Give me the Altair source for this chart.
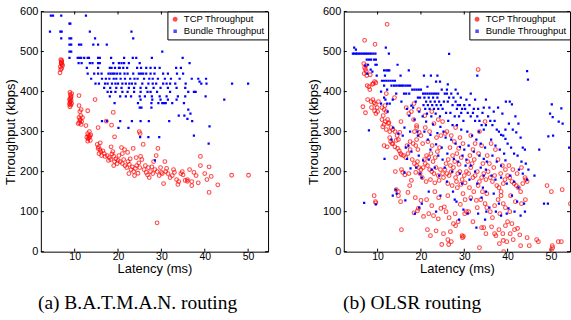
import altair as alt
import pandas as pd

# ---------------- data (latency ms, throughput kbps) ----------------
batman_tcp = [
    (6.8,480),(7.0,478),(6.9,472),(7.1,468),(6.7,462),(7.0,458),(6.8,455),(7.2,465),(6.6,447),(7.0,475),(6.9,470),
    (8.9,398),(9.0,392),(9.1,385),(8.8,380),(9.2,378),(9.0,375),(8.9,372),(9.3,370),(9.1,366),(8.9,362),(9.2,388),(9.0,382),(9.3,395),(8.8,368),
    (11.0,365),(11.5,355),(11.2,350),(11.4,340),(11.0,335),(11.3,330),(11.6,325),(11.1,322),(10.8,320),(11.5,318),(11.2,328),(11.8,335),
    (11.0,390),(12.6,315),(14.7,380),(13.0,352),(18.9,348),(15.4,310),
    (13.0,295),(13.2,290),(13.5,288),(13.3,285),(13.1,282),(13.6,278),(13.0,276),(13.4,300),(12.8,286),(13.7,292),
    (17.3,326),(18.5,316),
    (15.2,268),(15.5,262),(15.8,255),(16.0,250),(15.6,245),(16.2,240),(15.4,258),(16.5,252),(16.8,245),(17.0,238),(15.9,272),
    (17.5,240),(18.0,235),(18.3,230),(18.6,244),(19.0,238),(19.2,225),(19.5,232),(19.8,220),(18.8,250),(17.8,228),(19.0,215),(20.0,228),(18.4,262),(19.2,287),
    (20.5,225),(21.0,220),(21.3,230),(21.6,215),(22.0,210),(22.3,225),(22.6,218),(23.0,205),(23.3,212),(23.6,200),(24.0,208),(24.3,215),(24.6,196),(25.0,210),
    (20.8,260),(21.5,255),(22.2,248),(23.5,258),(24.2,235),(25.2,238),(25.5,230),(20.2,240),(22.8,232),(24.8,222),(23.8,190),(22.5,195),(21.0,245),(25.8,268),(24.9,300),(25.1,295),
    (26.0,205),(26.5,198),(27.0,210),(27.5,200),(28.0,195),(28.5,205),(29.0,200),(29.5,190),(30.0,198),(26.3,215),(27.2,185),(28.2,225),(29.2,258),(28.8,240),(30.5,170),(29.8,210),(27.8,212),(26.8,192),(30.2,195),(29.0,72),
    (31.0,200),(31.5,195),(32.0,185),(32.5,190),(33.0,198),(33.5,180),(34.0,175),(34.5,195),(35.0,192),(31.2,208),(33.8,168),(34.8,200),(32.8,205),(30.8,225),
    (35.5,178),(36.0,180),(36.5,205),(37.0,165),(37.5,198),(38.0,190),(38.5,172),(39.0,238),(39.0,215),(40.0,195),(40.5,180),(41.0,212),(41.0,148),(41.5,188),(43.0,167),(46.2,191),(50.1,191),(37.0,175),(36.0,176),
]
batman_bundle = [
    (4.5,590),(5.0,590),(6.9,590),(12.6,590),(4.3,550),(6.7,550),(7.0,550),(13.5,550),(23.1,550),(6.9,533),(8.8,533),(9.2,533),(14.7,533),(23.5,533),
    (8.8,570),(9.0,570),(8.8,517),(9.2,517),(11.0,517),(11.5,517),(14.3,517),(15.4,517),(17.4,517),(8.8,500),(9.2,500),(30.2,500),
    (8.8,484),(10.7,484),(11.1,484),(11.5,484),(12.2,484),(13.0,484),(13.3,484),(15.4,484),(15.8,484),(18.4,484),(21.4,484),(23.4,484),(24.2,484),(27.8,484),(34.9,484),
    (10.9,471),(11.6,471),(13.5,471),(14.1,471),(15.4,471),(15.8,471),(18.9,471),(20.2,471),(20.8,471),(21.4,471),(22.5,471),(25.0,471),(36.5,471),
    (12.8,459),(15.4,459),(18.1,459),(18.5,459),(19.3,459),(20.2,459),(20.4,459),(21.2,459),(22.1,459),(24.4,459),(25.3,459),(26.5,459),(27.5,459),(28.5,459),(29.6,459),(33.4,459),(34.5,459),
    (13.0,445),(14.5,445),(15.4,445),(16.2,445),(17.8,445),(18.3,445),(18.8,445),(19.2,445),(19.8,445),(20.5,445),(21.5,445),(22.2,445),(23.5,445),(24.8,445),(25.3,445),(25.8,445),(26.5,445),(27.5,445),(28.4,445),(30.4,445),(31.5,445),(33.6,445),(35.0,445),
    (13.8,432),(16.3,432),(17.2,432),(18.0,432),(19.0,432),(19.6,432),(20.6,432),(21.6,432),(22.8,432),(23.8,432),(24.5,432),(26.0,432),(27.2,432),(28.0,432),(29.2,432),(30.8,432),(32.2,432),(34.2,432),(37.0,432),(38.5,432),(40.3,432),(46.3,420),(50.0,420),
    (14.8,420),(15.6,420),(17.0,420),(17.6,420),(18.6,420),(19.4,420),(20.0,420),(21.0,420),(21.8,420),(22.6,420),(23.2,420),(24.0,420),(25.6,420),(27.0,420),(28.0,420),(28.8,420),(30.4,420),(31.2,420),(32.0,420),(33.2,420),(35.6,420),(39.2,420),(40.4,420),(38.8,425),
    (16.8,409),(18.2,409),(19.6,409),(20.8,409),(22.5,409),(23.7,409),(25.2,409),(26.5,409),(28.2,409),(29.8,409),(31.5,409),(33.5,409),(35.5,409),
    (17.6,399),(18.4,399),(19.4,399),(21.0,399),(22.2,399),(23.7,399),(25.2,399),(26.8,399),(27.5,399),(29.0,399),(32.0,399),(36.2,399),(37.5,399),(37.9,399),
    (18.1,388),(20.5,388),(21.8,388),(23.0,388),(25.0,388),(26.2,388),(27.8,388),(29.6,388),(31.2,388),(33.8,388),(35.5,388),(40.2,388),
    (25.2,380),(27.9,380),(29.8,380),(31.5,380),(33.5,380),(44.5,380),
    (19.2,371),(24.6,371),(27.7,371),(29.3,371),(30.2,371),(30.6,371),(31.0,371),(32.5,371),(35.2,371),
    (25.0,360),(25.4,360),(27.7,360),(36.2,355),(36.7,345),(34.0,340),(35.3,340),(36.0,332),
    (16.3,326),(17.4,326),(20.5,326),(23.2,326),(25.2,326),(27.1,326),(31.8,326),(37.1,326),
    (20.1,309),(22.4,309),(41.1,313),(25.1,286),(27.0,286),(29.5,286),(37.5,290),(40.9,270),(28.5,228),
]
olsr_tcp = [
    (7.0,528),(9.4,518),(12.2,568),(6.8,470),(7.0,460),(7.2,455),(7.4,450),(6.9,445),(7.5,440),(7.3,465),(8.3,442),(8.8,418),(9.0,420),(9.3,425),(9.6,422),(8.0,412),(8.2,405),(7.6,415),
    (6.6,362),(7.2,347),(8.5,375),(8.9,380),(9.2,372),(9.5,368),(9.6,345),(9.9,360),(8.6,360),(9.3,352),(10.0,350),(7.7,380),(10.2,375),(9.2,140),(9.6,122),(9.5,125),
    (11.0,360),(11.5,355),(12.0,350),(11.3,340),(11.0,330),(11.8,325),(11.5,318),(12.3,330),(12.6,322),(11.2,312),(12.0,305),(12.8,300),(13.1,310),(13.5,305),(14.0,300),(14.5,290),
    (11.5,265),(12.2,262),(13.0,275),(13.5,270),(14.0,262),(14.3,278),(14.6,258),(15.0,252),(15.3,245),(14.2,235),(15.5,242),(13.3,270),(12.8,285),(14.8,280),(15.1,298),(15.4,325),(12.5,320),(13.9,385),(11.7,365),(12.0,395),
    (15.5,55),(15.3,125),(14.8,140),(14.3,155),(15.5,205),(14.1,200),(15.8,198),(14.8,150),
    (16.0,240),(16.5,235),(17.0,245),(17.5,255),(18.0,230),(16.8,265),(17.5,275),(18.2,270),(18.8,265),(19.0,280),(19.3,255),(17.2,195),(18.5,220),(19.0,215),(19.5,210),(20.0,205),(18.8,198),(19.2,225),(19.8,195),
    (16.6,360),(17.2,345),(17.8,350),(18.3,330),(19.0,315),(18.5,300),(19.6,298),(20.0,290),(19.0,310),(17.4,165),(17.0,148),(18.7,135),(19.4,108),(18.4,97),(19.2,102),(20.0,128),(16.3,192),(17.8,178),(18.4,370),(19.5,355),
    (20.5,210),(21.0,220),(21.5,215),(22.0,205),(22.5,200),(23.0,195),(23.5,210),(24.0,190),(24.5,205),(25.0,195),(20.8,230),(21.3,240),(21.8,235),(22.3,245),(22.8,225),(23.3,235),(23.8,250),(24.3,260),
    (20.3,185),(21.2,175),(22.2,180),(23.2,172),(24.2,178),(25.2,185),(20.4,270),(21.6,275),(22.6,265),(23.6,285),(24.6,290),(25.6,295),(21.0,310),(22.0,300),(23.0,320),(24.0,330),(25.0,325),(20.9,340),(22.5,350),
    (21.3,130),(22.5,115),(21.8,95),(22.9,90),(24.0,82),(24.6,108),(21.5,55),(22.2,40),(23.5,52),(24.8,18),(25.2,45),(20.6,88),(23.2,150),(24.1,135),(25.4,112),
    (25.5,205),(26.0,195),(26.5,190),(27.0,200),(27.5,210),(28.0,185),(28.5,195),(29.0,200),(29.5,180),(30.0,190),(25.8,220),(26.3,230),(26.8,215),(27.3,240),(27.8,225),(28.3,245),(28.8,218),(29.3,235),
    (26.2,170),(27.2,165),(28.2,175),(29.2,168),(30.2,172),(26.7,260),(27.7,275),(28.7,258),(29.7,270),(26.0,300),(27.0,290),(28.0,310),(29.0,285),
    (26.4,18),(26.2,30),(27.0,25),(26.8,50),(27.5,70),(28.0,65),(28.6,75),(29.5,40),(29.6,35),(29.8,38),(25.8,100),(26.5,85),(27.9,95),(29.1,118),(30.1,95),(30.5,100),(30.2,130),(28.4,160),(29.7,145),(26.2,140),
    (30.5,200),(31.0,195),(31.5,210),(32.0,185),(32.5,190),(33.0,200),(33.5,175),(34.0,185),(34.5,195),(35.0,180),(30.8,225),(31.3,240),(31.8,220),(32.3,230),(33.3,245),(34.3,220),(35.3,240),
    (31.2,160),(32.2,150),(33.2,165),(34.2,150),(35.2,145),(31.5,135),(32.8,128),(33.8,130),(34.8,120),(31.0,100),(32.0,75),(33.0,110),(33.5,10),(34.0,60),(34.5,60),(35.0,45),(35.2,110),
    (33.2,455),(31.5,290),(32.5,270),(33.5,300),(34.8,325),(34.0,265),(32.0,255),
    (35.5,200),(36.0,185),(36.5,175),(37.0,190),(37.5,165),(38.0,160),(38.5,150),(39.0,170),(39.5,205),(40.0,190),(35.8,220),(36.8,210),(37.8,230),(38.8,215),(36.2,270),(37.2,255),(38.4,195),(39.4,180),
    (36.0,100),(36.5,85),(37.0,115),(37.8,130),(38.2,95),(39.0,120),(39.5,110),(36.3,62),(37.0,45),(38.0,55),(38.9,45),(39.5,65),(39.0,28),(38.1,20),(39.1,0),(39.8,25),(37.3,40),(40.0,75),(38.5,140),
    (40.5,185),(41.0,175),(41.5,170),(42.0,165),(42.5,160),(43.0,150),(43.5,170),(44.0,185),(44.5,175),(40.3,215),(41.2,205),(42.2,195),(43.2,210),(44.2,180),
    (40.7,140),(41.8,125),(43.2,120),(40.5,100),(41.0,70),(41.6,55),(42.3,58),(42.8,42),(43.0,15),(40.6,45),(41.3,30),(44.1,130),(45.0,15),(44.5,35),
    (47.1,25),(49.1,165),(50.1,150),(50.4,10),(50.1,5),(51.7,25),(52.4,25),(52.6,155),(54.5,120),(46.7,30),(50.3,15),
]
olsr_bundle = [
    (4.3,495),(4.6,495),(5.0,495),(5.3,495),(5.7,495),(6.1,495),(6.5,495),(6.9,495),(7.3,495),(7.7,495),(8.1,495),(8.5,495),(9.0,495),(9.5,495),(4.6,510),(5.0,505),
    (7.5,480),(8.0,480),(8.5,480),(9.2,480),(9.6,480),(7.2,465),(7.8,467),(9.5,467),(9.8,467),(6.9,122),(9.6,118),(8.0,303),(8.4,455),(7.6,445),(8.8,450),(9.8,440),
    (11.9,510),(12.6,495),(11.5,453),(12.0,453),(12.4,453),(12.7,453),(11.0,427),(11.5,427),(12.0,427),(12.5,427),(13.0,427),(13.5,427),(14.0,427),(14.6,467),(11.7,440),
    (10.8,400),(11.5,415),(12.2,405),(13.2,415),(13.8,415),(14.3,415),(14.8,415),(12.2,370),(12.8,370),(13.5,380),(14.3,395),(11.8,380),(10.8,370),(11.6,232),(14.2,155),
    (13.2,280),(13.6,310),(14.8,295),(12.3,350),(14.4,145),(13.5,140),(11.5,385),
    (15.2,415),(15.6,415),(16.0,415),(16.5,415),(17.0,415),(17.5,415),(17.2,453),(18.0,405),(18.5,405),(19.0,405),(19.5,405),(20.0,405),(16.1,395),(16.6,395),(17.3,395),(19.3,385),(19.8,385),(18.8,375),(17.8,365),
    (15.5,375),(16.8,357),(18.2,360),(19.6,350),(17.3,340),(18.5,330),(16.2,310),(15.8,290),(17.5,300),(19.2,300),(17.1,265),(17.8,250),(19.5,240),(16.8,232),(16.2,198),(18.9,210),(17.6,208),(19.8,195),
    (16.4,128),(18.6,95),(19.6,110),(19.3,290),(15.3,440),(16.5,260),
    (20.5,395),(21.0,395),(21.5,395),(22.0,395),(22.5,395),(23.0,395),(23.5,395),(24.0,395),(20.8,385),(21.8,385),(22.8,385),(23.8,385),(21.2,375),(22.2,375),(23.2,375),(24.2,375),
    (20.6,366),(21.6,366),(22.6,366),(23.6,366),(24.6,366),(21.0,357),(22.0,357),(23.0,357),(24.0,357),(25.0,357),(20.4,338),(21.4,345),(22.4,338),(23.4,345),(24.4,338),
    (21.2,325),(22.8,318),(24.5,312),(20.8,300),(22.2,292),(23.8,296),(21.6,280),(23.5,268),(24.8,260),(22.2,255),(20.5,228),(24.0,240),(25.0,230),(23.2,210),
    (21.5,412),(22.3,440),(23.8,440),(23.5,425),(24.8,405),(24.4,425),(20.7,440),(21.8,150),(23.5,100),(24.5,140),(20.2,120),(22.5,205),(24.2,190),(20.2,185),(21.8,230),
    (25.5,395),(26.0,395),(26.5,385),(27.0,395),(27.5,385),(28.0,375),(28.5,366),(29.0,366),(29.5,357),(30.0,366),(25.3,375),(26.2,375),(27.3,366),(28.3,357),(29.3,347),(30.2,357),
    (25.8,347),(26.8,347),(27.8,338),(28.8,338),(29.8,327),(26.3,327),(27.3,316),(28.3,316),(29.3,305),(26.0,405),(28.5,395),(26.5,494),
    (25.2,300),(25.7,285),(27.0,280),(28.0,270),(29.0,262),(30.0,255),(26.1,245),(27.6,232),(28.6,225),(29.6,240),(30.5,230),(25.5,210),(27.2,200),(29.0,195),(30.3,215),
    (27.8,130),(28.2,125),(29.8,105),(28.8,80),(27.4,150),(26.0,175),(29.5,170),(30.5,380),(26.2,418),(28.0,405),(29.2,385),
    (30.8,347),(31.5,338),(32.0,347),(32.5,327),(33.0,338),(33.5,327),(34.0,316),(34.5,305),(35.0,316),(31.2,366),(32.2,357),(33.2,357),(34.2,347),(31.5,395),(32.5,380),(33.0,440),(33.4,300),
    (30.7,300),(31.8,290),(32.8,280),(33.8,270),(34.8,260),(31.0,265),(32.2,250),(33.5,240),(34.5,232),(35.2,225),(31.5,215),(32.5,200),(33.8,210),(34.5,190),(35.0,205),
    (31.2,180),(33.0,170),(34.3,160),(35.0,150),(31.5,130),(34.0,135),(32.8,60),(34.8,80),(33.2,95),(30.8,95),(35.1,100),(34.5,360),(35.0,380),
    (35.5,338),(36.0,327),(36.5,316),(37.0,327),(37.5,305),(38.0,300),(38.5,292),(39.0,290),(39.5,282),(40.0,270),(35.8,360),(36.8,350),(37.8,360),(38.8,345),(39.6,375),(39.5,305),
    (36.2,280),(37.2,265),(38.2,255),(39.2,245),(36.5,240),(37.5,225),(38.5,215),(39.5,228),(36.3,190),(37.2,180),(38.5,185),(39.8,170),(36.8,145),(38.0,120),(37.3,100),(39.8,95),(35.8,110),(38.5,90),
    (40.5,375),(41.0,368),(40.3,320),(41.2,305),(42.0,298),(41.8,338),(42.5,320),(43.0,285),(43.5,260),(44.0,255),(44.5,451),(44.7,430),
    (40.8,260),(41.5,245),(42.3,240),(43.2,225),(44.2,220),(44.8,205),(40.6,190),(41.5,175),(42.6,205),(43.5,195),(44.5,180),(41.0,140),(42.2,125),(43.8,120),(40.2,108),(41.6,100),(43.0,90),(44.0,100),(42.5,160),
    (46.2,190),(47.3,255),(48.4,120),(49.4,288),(49.8,345),(50.2,368),(50.4,336),(51.8,325),(52.4,358),(52.7,320),(54.2,260),(50.5,290),(49.3,120),
]
series_names = ["TCP Throughput", "Bundle Throughput"]
x_ticks = [10, 20, 30, 40, 50]
y_ticks = [0, 100, 200, 300, 400, 500, 600]
captions = ["(a)  B.A.T.M.A.N. routing", "(b)  OLSR routing"]

FONT = "Liberation Sans"
H = 241


def frame(pairs, name):
    return pd.DataFrame({"lat": [p[0] for p in pairs], "thr": [p[1] for p in pairs], "series": name})


def panel(tcp, bundle, caption, width, xmax, dx):
    xs = alt.Scale(domain=[2.2, xmax], nice=False, zero=False)
    ys = alt.Scale(domain=[0, 600], nice=False, zero=True)
    col = alt.Scale(domain=series_names, range=["#ff0000", "#0000ff"])
    shp = alt.Scale(domain=series_names, range=["circle", "square"])
    siz = alt.Scale(domain=series_names, range=[14, 5])
    leg = alt.Legend(title=None, orient="top-right", offset=0, strokeColor="black",
                     fillColor="white", padding=3, rowPadding=1, labelFont=FONT,
                     labelFontSize=9.5, labelColor="black",
                     symbolStrokeWidth=1.2, labelOffset=4, symbolOffset=0)
    xax = alt.Axis(values=x_ticks, grid=False, domain=False, ticks=False, labelFont=FONT,
                   labelFontSize=10.5, labelColor="black", labelPadding=0, title="Latency (ms)",
                   titleFont=FONT, titleFontSize=13, titleFontWeight="normal", titleColor="black",
                   titlePadding=0)
    yax = alt.Axis(values=y_ticks, grid=False, domain=False, ticks=False, labelFont=FONT,
                   labelFontSize=11, labelColor="black", labelPadding=3, title="Throughput (kbps)",
                   titleFont=FONT, titleFontSize=13, titleFontWeight="normal", titleColor="black",
                   titlePadding=2)
    enc = dict(
        color=alt.Color("series:N", scale=col, legend=leg),
        shape=alt.Shape("series:N", scale=shp, legend=leg),
        size=alt.Size("series:N", scale=siz, legend=leg),
    )
    t = alt.Chart(frame(tcp, series_names[0])).mark_point(filled=False, strokeWidth=1.1,
                                                           clip=True).encode(
        x=alt.X("lat:Q", scale=xs, axis=xax),
        y=alt.Y("thr:Q", scale=ys, axis=yax),
        **enc,
    )
    b = alt.Chart(frame(bundle, series_names[1])).mark_point(filled=True, opacity=1,
                                                              clip=True).encode(
        x=alt.X("lat:Q", scale=xs),
        y=alt.Y("thr:Q", scale=ys),
        **enc,
    )
    xt = pd.DataFrame({"t": x_ticks})
    yt = pd.DataFrame({"t": y_ticks})
    tb = alt.Chart(xt).mark_rule(color="black", strokeWidth=1).encode(
        x=alt.X("t:Q", scale=xs), y=alt.value(H), y2=alt.value(H - 3))
    tt = alt.Chart(xt).mark_rule(color="black", strokeWidth=1).encode(
        x=alt.X("t:Q", scale=xs), y=alt.value(0), y2=alt.value(3))
    tl = alt.Chart(yt).mark_rule(color="black", strokeWidth=1).encode(
        y=alt.Y("t:Q", scale=ys), x=alt.value(0), x2=alt.value(3))
    tr = alt.Chart(yt).mark_rule(color="black", strokeWidth=1).encode(
        y=alt.Y("t:Q", scale=ys), x=alt.value(width - 3), x2=alt.value(width))
    return alt.layer(tt, tb, tl, tr, t, b).properties(
        width=width, height=H,
        title=alt.TitleParams(caption, orient="bottom", anchor="middle", font="Liberation Serif",
                              fontSize=19.5, fontWeight="normal", color="black", offset=19, dx=dx),
    )


left = panel(batman_tcp, batman_bundle, captions[0], 228, 54.6, -17)
right = panel(olsr_tcp, olsr_bundle, captions[1], 227, 54.4, -45)

chart = alt.hconcat(left, right, spacing=38).resolve_scale(
    color="independent", shape="independent", size="independent", x="independent", y="independent"
).resolve_legend(color="independent", shape="independent", size="independent").properties(
    padding={"left": 4, "top": 4, "right": 0, "bottom": 0},
    background="white",
).configure_view(stroke="black", strokeWidth=1)

chart.save("out.html", embed_options={"renderer": "svg", "actions": False})
